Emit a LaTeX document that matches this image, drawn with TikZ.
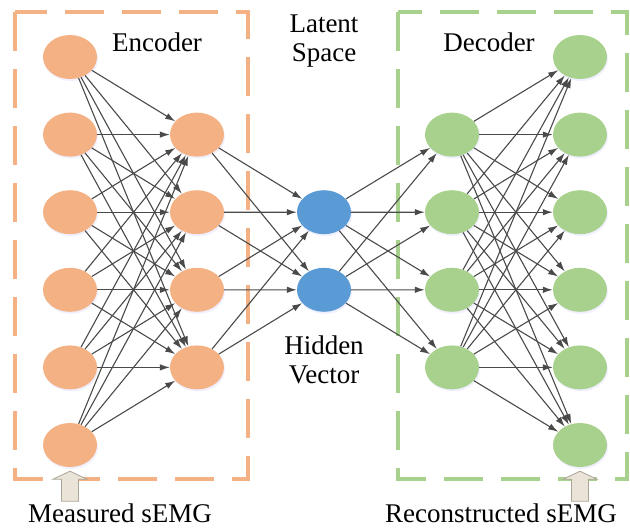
\documentclass[tikz,border=0pt]{standalone}
\usepackage{fontspec}
\setmainfont{Liberation Serif}
\usetikzlibrary{arrows.meta,shapes.geometric,shadows}
\definecolor{encfill}{HTML}{F4B183}
\definecolor{latfill}{HTML}{5B9BD5}
\definecolor{decfill}{HTML}{A9D18E}
\definecolor{linkgray}{HTML}{4A4A4A}
\definecolor{feedfill}{HTML}{EAE4D8}
\definecolor{feeddraw}{HTML}{ABA598}
\tikzset{
	neuron/.style={ellipse, minimum width=54pt, minimum height=44pt, inner sep=0pt,
		drop shadow={shadow xshift=1pt, shadow yshift=-2pt, opacity=0.2, fill=blue!30}},
	link/.style={draw=linkgray, line width=1.1pt, -{Latex[length=10pt,width=6.5pt]}},
	groupbox/.style={dash pattern=on 39pt off 18pt, line width=4pt},
	heading/.style={font=\fontsize{27}{29}\selectfont, align=center, inner sep=0pt},
	feed/.style={fill=feedfill, draw=feeddraw, line width=0.8pt},
}

\begin{document}
\begin{tikzpicture}[x=1pt,y=-1pt]
		\useasboundingbox (0,0) rectangle (630,528);
		\draw[groupbox, draw=encfill] (15,12) rectangle (248,479);
		\draw[groupbox, draw=decfill] (398,12) rectangle (627,479);
		\foreach \i in {1,...,6} {
			\node[neuron, fill=encfill] (in\i) at (70, {57+77.6*(\i-1)}) {};
			\node[neuron, fill=decfill] (out\i) at (580, {57+77.6*(\i-1)}) {};
		}
		\foreach \i in {1,...,4} {
			\node[neuron, fill=encfill] (en\i) at (197, {57+77.6*\i}) {};
			\node[neuron, fill=decfill] (de\i) at (452, {57+77.6*\i}) {};
		}
		\node[neuron, fill=latfill] (z1) at (324, 212.2) {};
		\node[neuron, fill=latfill] (z2) at (324, 289.8) {};
		\foreach \i in {1,...,6}
			\foreach \j in {1,...,4} {
				\draw[link] (in\i) -- (en\j);
				\draw[link] (de\j) -- (out\i);
			}
		\foreach \j in {1,...,4}
			\foreach \k in {1,2} {
				\draw[link] (en\j) -- (z\k);
				\draw[link] (z\k) -- (de\j);
			}
		\foreach \n in {in6, out6}
			\draw[feed, shift={(\n.south)}] (-8.5,34) -- (-8.5,12) -- (-17,12) -- (0,4)
				-- (17,12) -- (8.5,12) -- (8.5,34) -- cycle;
		\node[heading] (enc) at (157, 42) {Encoder};
		\node[heading] (dec) at (489, 42) {Decoder};
		\node[heading] (latent) at (324, 41) {Latent\\Space};
		\node[heading] (hidden) at (324, 360) {Hidden\\Vector};
		\node[heading, anchor=base] (meas) at (120, 522) {Measured sEMG};
		\node[heading, anchor=base] (recon) at (501, 522) {Reconstructed sEMG};
	\end{tikzpicture}
\end{document}
